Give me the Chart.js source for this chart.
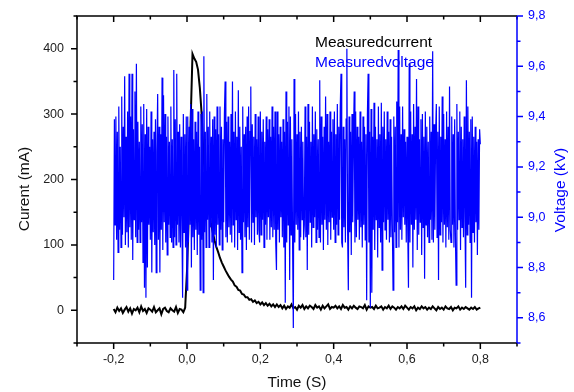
<!DOCTYPE html>
<html>
<head>
<meta charset="utf-8">
<script src="https://cdn.jsdelivr.net/npm/chart.js@4.4.0/dist/chart.umd.min.js"></script>
<style>
body { margin: 0; background: #fff; }
#wrap { width: 574px; height: 392px; }
</style>
</head>
<body>
<div id="wrap"><canvas id="myChart"></canvas></div>
<script>
// sampling of the two traces (time in s)
const tStart = -0.2;
const currentStep = 0.005;
const voltageStep = 0.002;

// current, mA (-0.2 .. 0.8 s)
const current = [
    2, -3, 4, -1, 3, -4, 1, 5, -2, 3,
    -5, 2, 0, 4, -3, 6, -1, 2, -4, 3,
    1, -2, 5, -3, 0, 3, -6, 2, 4, -1,
    -3, 3, 0, -2, 5, -4, 2, 1, -3, 4,
    60, 150, 290, 392, 385, 380, 368, 340, 300, 235,
    200, 172, 152, 134, 120, 107, 97, 89, 80, 73,
    67, 61, 56, 51, 47, 44, 38, 36, 31, 30,
    25, 24, 20, 20, 16, 17, 13, 15, 11, 13,
    9, 12, 8, 11, 7, 10, 6, 9, 5, 9,
    5,
    8, 3, 7, 2, 6, 4, 9, 3, 5, 1,
    7, 4, 8, 2, 6, 3, 7, 5, 2, 8,
    4, 6, 1, 7, 3, 6, 9, 2, 5, 4,
    7, 3, 6, 2, 8, 4, 5, 1, 6, 3,
    7, 4, 2, 6, 5, 3, 8, 1, 6, 4,
    5, 2, 7, 3, 4, 6, 1, 5, 3, 7,
    2, 6, 4, 1, 5, 3, 6, 2, 7, 4,
    1, 5, 3, 6, 0, 4, 2, 6, 3, 5,
    1, 4, 2, 6, 3, 0, 5, 2, 4, 1,
    6, 3, 2, 5, 0, 4, 3, 6, 1, 4,
    2, 5, 3, 1, 4, 2, 5, 1, 3, 4
];

// voltage, kV (-0.2 .. 0.8 s), 20 samples per row
const voltage = [
    8.75, 9.39, 8.97, 9.40, 8.91, 9.34, 8.86, 9.44, 8.95, 9.28, 8.88, 9.48, 8.93, 9.36, 9.00, 9.56, 8.89, 9.32, 8.94, 9.42,
    8.88, 9.57, 8.96, 9.40, 8.91, 9.57, 8.83, 9.35, 8.99, 9.50, 8.92, 9.61, 8.90, 9.38, 8.95, 9.30, 8.90, 9.44, 8.98, 9.37,
    8.82, 9.45, 8.72, 9.33, 8.68, 9.43, 8.80, 9.36, 8.97, 9.28, 8.91, 9.42, 8.78, 9.31, 8.94, 9.34, 8.89, 9.39, 8.78, 9.26,
    9.49, 8.91, 9.36, 8.78, 9.33, 8.95, 9.555, 8.87, 9.485, 8.98, 9.41, 8.90, 9.32, 8.85, 9.40, 8.97, 9.30, 8.92, 9.44, 8.90,
    9.31, 8.88, 9.585, 8.92, 9.39, 8.89, 9.57, 8.97, 9.34, 8.90, 9.37, 8.88, 9.32, 8.99, 8.68, 9.41, 8.94, 9.33, 8.88, 9.40,
    8.71, 9.40, 8.90, 9.36, 8.97, 9.45, 8.80, 9.43, 8.92, 9.31, 8.87, 9.38, 8.95, 9.34, 8.85, 9.42, 8.93, 9.28, 8.71, 9.41,
    8.91, 9.42, 8.70, 9.64, 8.94, 9.34, 8.88, 9.49, 8.99, 9.36, 8.88, 9.42, 8.96, 9.32, 8.90, 9.39, 8.75, 9.40, 8.93, 9.35,
    8.88, 9.44, 8.97, 9.33, 8.89, 9.44, 8.95, 9.36, 8.87, 9.31, 8.98, 9.41, 9.54, 8.92, 9.38, 8.90, 9.40, 8.96, 9.30, 8.93,
    9.41, 8.90, 9.54, 8.97, 9.34, 8.88, 9.42, 8.99, 9.32, 8.87, 9.505, 8.94, 9.36, 8.91, 9.28, 8.78, 9.44, 8.98, 9.33, 8.92,
    9.36, 8.87, 9.40, 8.96, 9.44, 8.91, 9.34, 9.52, 8.90, 9.37, 8.98, 9.32, 8.89, 9.41, 9.00, 9.31, 8.93, 9.40, 8.95, 8.90,
    9.42, 8.93, 9.34, 8.99, 9.39, 8.88, 9.30, 8.97, 9.40, 8.91, 9.35, 9.00, 9.39, 8.91, 9.32, 8.96, 9.44, 8.92, 9.36, 8.95,
    9.42, 8.90, 8.79, 9.42, 8.95, 9.33, 8.90, 9.36, 9.00, 9.30, 8.92, 9.39, 8.88, 9.34, 8.66, 9.50, 8.90, 9.38, 8.97, 9.44,
    8.75, 9.40, 8.93, 9.31, 8.89, 8.56, 9.55, 8.90, 9.41, 8.97, 9.33, 8.95, 9.42, 8.87, 9.34, 8.92, 9.36, 8.99, 9.30, 8.91,
    8.97, 9.44, 8.92, 9.32, 8.79, 9.45, 8.93, 9.38, 8.98, 9.30, 8.88, 9.44, 8.96, 9.33, 9.00, 9.42, 8.90, 9.35, 8.95, 9.31,
    8.92, 9.545, 8.90, 9.40, 8.97, 9.32, 8.87, 9.36, 8.99, 9.48, 8.95, 9.41, 8.89, 9.30, 8.98, 9.42, 8.91, 9.34, 9.00, 9.39,
    8.95, 9.42, 8.90, 9.33, 8.97, 9.45, 8.93, 9.36, 8.99, 9.44, 9.57, 8.90, 8.88, 9.36, 8.96, 9.31, 8.90, 9.39, 9.67, 8.95,
    8.71, 9.40, 8.94, 9.34, 8.85, 9.41, 8.98, 9.31, 9.50, 8.90, 9.42, 8.92, 9.36, 8.99, 9.32, 8.91, 9.42, 8.96, 9.30, 8.88,
    9.40, 8.97, 9.36, 8.91, 9.33, 8.67, 9.41, 9.57, 8.90, 9.34, 8.64, 9.43, 8.70, 9.32, 8.95, 9.455, 8.87, 9.36, 8.99, 9.31,
    8.84, 9.44, 8.96, 9.33, 8.90, 9.455, 8.79, 9.36, 8.98, 9.42, 8.95, 9.31, 8.91, 9.42, 8.99, 9.34, 8.90, 9.39, 8.92, 9.32,
    8.97, 8.71, 9.40, 8.94, 9.36, 8.88, 9.46, 8.98, 9.665, 8.88, 9.44, 8.95, 9.33, 8.91, 9.44, 9.00, 9.35, 8.97, 9.30, 8.90,
    9.32, 8.95, 8.72, 9.61, 8.90, 9.42, 8.97, 9.33, 8.80, 9.45, 8.95, 9.36, 8.99, 9.55, 8.87, 9.44, 8.93, 9.31, 8.98, 9.39,
    8.85, 9.41, 8.96, 9.32, 8.755, 9.42, 8.97, 9.36, 8.92, 9.30, 8.90, 9.40, 8.99, 9.34, 8.91, 9.66, 8.90, 9.37, 8.95, 9.33,
    9.45, 8.92, 9.34, 8.75, 9.44, 8.93, 9.32, 8.98, 9.48, 8.90, 9.41, 8.97, 9.31, 8.88, 9.42, 8.96, 9.36, 8.91, 9.52, 8.95,
    8.90, 9.40, 8.97, 9.33, 8.88, 9.39, 8.93, 8.73, 9.45, 8.95, 9.34, 8.99, 9.42, 8.87, 9.36, 8.96, 9.31, 8.92, 9.40, 9.00,
    8.72, 9.545, 8.93, 9.44, 8.97, 9.34, 8.90, 9.39, 8.68, 9.40, 8.94, 9.32, 8.90, 9.36, 8.98, 9.30, 8.85, 9.31, 8.95, 9.35,
    9.29
];

const xTicks = [-0.2, 0, 0.2, 0.4, 0.6, 0.8];
const xMinor = [-0.3, -0.1, 0.1, 0.3, 0.5, 0.7, 0.9];
const currentTicks = [0, 100, 200, 300, 400];
const currentMinor = [-50, 50, 150, 250, 350, 450];
const voltageTicks = [8.6, 8.8, 9.0, 9.2, 9.4, 9.6, 9.8];
const voltageMinor = [8.5, 8.7, 8.9, 9.1, 9.3, 9.5, 9.7];

const BLUE = '#0000ff';
const FONT = '"Liberation Sans", Arial, sans-serif';

function comma(v) {
    return v.toFixed(1).replace('.', ',');
}

// axes, ticks, titles and legend text drawn like the original plot
const framePlugin = {
    id: 'frame',
    afterDraw(chart) {
        const ctx = chart.ctx;
        const a = chart.chartArea;
        const x = chart.scales.x, y = chart.scales.y, y1 = chart.scales.y1;
        ctx.save();
        ctx.lineWidth = 1.5;

        // black frame (left, bottom, top)
        ctx.strokeStyle = '#000';
        ctx.beginPath();
        ctx.moveTo(a.left, a.bottom + 1);
        ctx.lineTo(a.left, a.top);
        ctx.lineTo(a.right, a.top);
        ctx.moveTo(a.left, a.bottom);
        ctx.lineTo(a.right, a.bottom);
        ctx.stroke();

        // x ticks, bottom (outward) and top (inward)
        ctx.beginPath();
        xTicks.forEach(v => {
            const px = x.getPixelForValue(v);
            ctx.moveTo(px, a.bottom); ctx.lineTo(px, a.bottom + 6);
            ctx.moveTo(px, a.top); ctx.lineTo(px, a.top + 6);
        });
        xMinor.forEach(v => {
            const px = x.getPixelForValue(v);
            ctx.moveTo(px, a.bottom); ctx.lineTo(px, a.bottom + 3.5);
            ctx.moveTo(px, a.top); ctx.lineTo(px, a.top + 3.5);
        });
        // left ticks
        currentTicks.forEach(v => {
            const py = y.getPixelForValue(v);
            ctx.moveTo(a.left, py); ctx.lineTo(a.left - 6, py);
        });
        currentMinor.forEach(v => {
            const py = y.getPixelForValue(v);
            ctx.moveTo(a.left, py); ctx.lineTo(a.left - 3.5, py);
        });
        ctx.stroke();

        // right axis in blue
        ctx.strokeStyle = BLUE;
        ctx.beginPath();
        ctx.moveTo(a.right, a.top);
        ctx.lineTo(a.right, a.bottom);
        voltageTicks.forEach(v => {
            const py = y1.getPixelForValue(v);
            ctx.moveTo(a.right, py); ctx.lineTo(a.right + 6, py);
        });
        voltageMinor.forEach(v => {
            const py = y1.getPixelForValue(v);
            ctx.moveTo(a.right, py); ctx.lineTo(a.right + 3.5, py);
        });
        ctx.stroke();

        // tick labels
        ctx.font = '12.5px ' + FONT;
        ctx.fillStyle = '#222';
        ctx.textBaseline = 'middle';
        ctx.textAlign = 'right';
        currentTicks.forEach(v => ctx.fillText(String(v), a.left - 13, y.getPixelForValue(v)));
        ctx.textAlign = 'center';
        xTicks.forEach(v => ctx.fillText(comma(v), x.getPixelForValue(v), a.bottom + 17));
        ctx.fillStyle = BLUE;
        ctx.textAlign = 'left';
        voltageTicks.forEach(v => ctx.fillText(comma(v), a.right + 11, y1.getPixelForValue(v)));

        // axis titles
        ctx.font = '15.5px ' + FONT;
        ctx.textAlign = 'center';
        ctx.fillStyle = '#111';
        ctx.fillText('Time (S)', (a.left + a.right) / 2, a.bottom + 40);
        ctx.save();
        ctx.translate(25, 189);
        ctx.rotate(-Math.PI / 2);
        ctx.fillText('Curent (mA)', 0, 0);
        ctx.restore();
        ctx.save();
        ctx.fillStyle = BLUE;
        ctx.translate(561, 190);
        ctx.rotate(-Math.PI / 2);
        ctx.fillText('Voltage (kV)', 0, 0);
        ctx.restore();

        // legend (text only)
        ctx.textAlign = 'left';
        chart.data.datasets.forEach((ds, i) => {
            ctx.fillStyle = ds.borderColor;
            ctx.fillText(ds.label, 315, 43 + i * 20);
        });
        ctx.restore();
    }
};

new Chart(document.getElementById('myChart'), {
    type: 'line',
    data: {
        datasets: [
            {
                label: 'Measuredcurrent',
                data: current.map((v, i) => ({ x: tStart + i * currentStep, y: v })),
                borderColor: '#000000',
                borderWidth: 2,
                pointRadius: 0,
                yAxisID: 'y',
                order: 2
            },
            {
                label: 'Measuredvoltage',
                data: voltage.map((v, i) => ({ x: tStart + i * voltageStep, y: v })),
                borderColor: BLUE,
                borderWidth: 1.2,
                pointRadius: 0,
                yAxisID: 'y1',
                order: 1
            }
        ]
    },
    options: {
        responsive: true,
        maintainAspectRatio: false,
        animation: false,
        layout: { padding: { top: 16 } },
        scales: {
            x: {
                type: 'linear',
                min: -0.3,
                max: 0.9,
                grid: { display: false },
                border: { display: false },
                ticks: { display: false },
                afterFit: s => { s.height = 49; }
            },
            y: {
                position: 'left',
                min: -50,
                max: 450,
                grid: { display: false },
                border: { display: false },
                ticks: { display: false },
                afterFit: s => { s.width = 77; }
            },
            y1: {
                position: 'right',
                min: 8.5,
                max: 9.8,
                grid: { display: false },
                border: { display: false },
                ticks: { display: false },
                afterFit: s => { s.width = 57; }
            }
        },
        plugins: {
            legend: { display: false },
            tooltip: { enabled: false }
        }
    },
    plugins: [framePlugin]
});
</script>
</body>
</html>
